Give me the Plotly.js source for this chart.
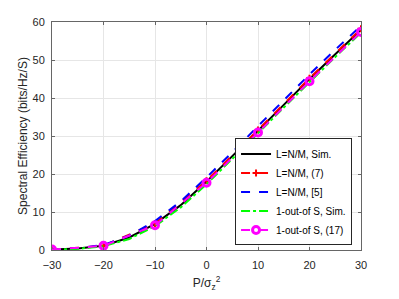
<!DOCTYPE html>
<html><head><meta charset="utf-8">
<script src="https://cdn.plot.ly/plotly-3.0.1.min.js"></script>
<style>html,body{margin:0;padding:0;background:#fff;}#chart{width:399px;height:299px;}</style>
</head><body><div id="chart"></div>
<script>
const snr5 = [-30,-25,-20,-15,-10,-5,0,5,10,15,20,25,30];
const snr10 = [-30,-20,-10,0,10,20,30];
const simL = [0.1,0.4,1.1,3.3,6.9,11.8,18.0,24.6,31.4,38.2,45.0,51.5,58.0];
const eq7 = [0.1,1.1,7.0,18.2,31.6,45.2,58.2];
const ref5 = [0.1,0.5,1.3,3.8,7.6,12.8,19.1,25.7,32.6,39.4,46.2,52.7,59.0];
const simS = [0.1,0.3,1.0,2.9,6.3,11.2,17.3,23.9,30.7,37.5,44.2,50.8,57.2];
const eq17 = [0.1,1.1,6.5,17.7,30.9,44.4,57.4];
const names = ['L=N/M, Sim.','L=N/M, (7)','L=N/M, [5]','1-out-of S, Sim.','1-out-of S, (17)'];

const traces = [
  {x:snr5,y:simL,name:names[0],mode:'lines',line:{color:'#000000',width:2}},
  {x:snr10,y:eq7,name:names[1],mode:'lines+markers',line:{color:'#ff0000',width:2,dash:'dash'},marker:{symbol:'cross-thin-open',size:5,line:{color:'#ff0000',width:2}}},
  {x:snr5,y:ref5,name:names[2],mode:'lines',line:{color:'#0000ff',width:2,dash:'dash'}},
  {x:snr5,y:simS,name:names[3],mode:'lines',line:{color:'#00ff00',width:2,dash:'dashdot'}},
  {x:snr10,y:eq17,name:names[4],mode:'lines+markers',line:{color:'#ff00ff',width:2,dash:'dash'},marker:{symbol:'circle-open',size:7,line:{color:'#ff00ff',width:3}}}
];
const axisCommon = {showline:true,mirror:'ticks',linecolor:'#666',linewidth:1,ticks:'inside',ticklen:3,tickcolor:'#666',
  showgrid:true,gridcolor:'#e6e6e6',gridwidth:1,zeroline:false,tickfont:{family:'Liberation Sans, Arial, sans-serif',size:11,color:'#262626'}};
const layout = {
  width:399,height:299,paper_bgcolor:'#fff',plot_bgcolor:'#fff',
  margin:{l:52,r:38,t:22,b:49},
  font:{family:'Liberation Sans, Arial, sans-serif',color:'#262626'},
  xaxis:Object.assign({},axisCommon,{range:[-30,30],tickvals:[-30,-20,-10,0,10,20,30],ticklabelstandoff:5,
    title:{text:'P/σ<sub>z</sub><sup>2</sup>',font:{size:12,color:'#262626'},standoff:8}}),
  yaxis:Object.assign({},axisCommon,{range:[0,60],tickvals:[0,10,20,30,40,50,60],ticklabelstandoff:4,
    title:{text:'Spectral Efficiency (bits/Hz/S)',font:{size:12,color:'#262626'},standoff:2}}),
  showlegend:true,
  legend:{x:0.971,y:0.02,xanchor:'right',yanchor:'bottom',bgcolor:'#fff',bordercolor:'#262626',borderwidth:1,
    font:{size:10,color:'#000'},tracegroupgap:0,itemwidth:30}
};
Plotly.newPlot('chart',traces,layout,{staticPlot:true,displayModeBar:false});
</script></body></html>
